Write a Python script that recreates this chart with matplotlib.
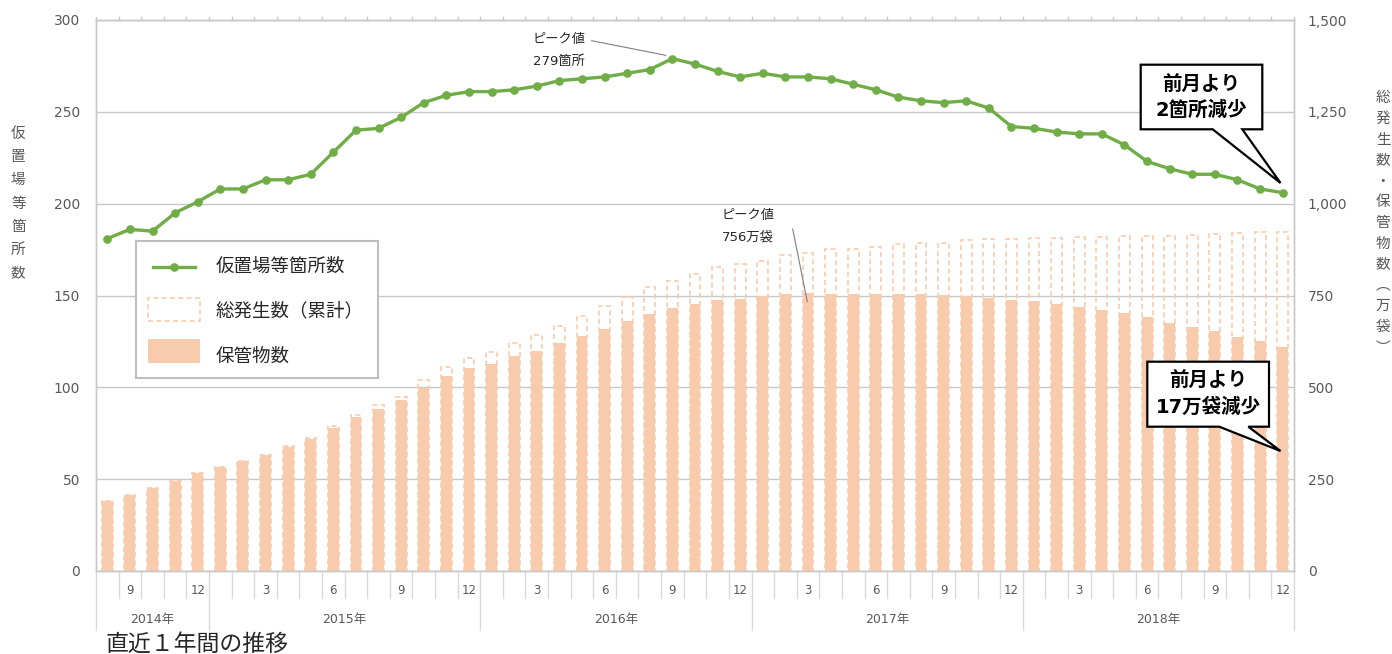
import matplotlib
matplotlib.use('Agg')
import matplotlib.pyplot as plt
from matplotlib.patches import Polygon, Rectangle
from matplotlib.lines import Line2D

plt.rcParams['font.family'] = ['DejaVu Sans', 'Noto Sans CJK JP']

# ---------------- data ----------------
years = [2014, 2014, 2014, 2014, 2014,
         2015, 2015, 2015, 2015, 2015, 2015, 2015, 2015, 2015, 2015, 2015, 2015,
         2016, 2016, 2016, 2016, 2016, 2016, 2016, 2016, 2016, 2016, 2016, 2016,
         2017, 2017, 2017, 2017, 2017, 2017, 2017, 2017, 2017, 2017, 2017, 2017,
         2018, 2018, 2018, 2018, 2018, 2018, 2018, 2018, 2018, 2018, 2018, 2018]
months = [8, 9, 10, 11, 12,
          1, 2, 3, 4, 5, 6, 7, 8, 9, 10, 11, 12,
          1, 2, 3, 4, 5, 6, 7, 8, 9, 10, 11, 12,
          1, 2, 3, 4, 5, 6, 7, 8, 9, 10, 11, 12,
          1, 2, 3, 4, 5, 6, 7, 8, 9, 10, 11, 12]

# 仮置場等箇所数 (left axis)
sites = [181, 186, 185, 195, 201,
         208, 208, 213, 213, 216, 228, 240, 241, 247, 255, 259, 261,
         261, 262, 264, 267, 268, 269, 271, 273, 279, 276, 272, 269,
         271, 269, 269, 268, 265, 262, 258, 256, 255, 256, 252, 242,
         241, 239, 238, 238, 232, 223, 219, 216, 216, 213, 208, 206]

# 総発生数（累計） 万袋 (right axis)
total = [191, 207, 226, 245, 267,
         284, 300, 317, 339, 362, 395, 426, 451, 475, 519, 555, 579,
         596, 620, 643, 668, 693, 721, 747, 773, 790, 809, 827, 835,
         845, 859, 867, 876, 876, 883, 889, 892, 894, 901, 903, 903,
         907, 907, 909, 909, 912, 912, 912, 915, 917, 919, 924, 924]

# 保管物数 万袋 (right axis)
storage = [191, 207, 226, 245, 267,
           284, 300, 317, 338, 360, 390, 418, 442, 465, 497, 531, 552,
           563, 584, 600, 620, 639, 659, 681, 700, 716, 727, 738, 741,
           749, 753, 756, 755, 755, 753, 753, 753, 751, 748, 743, 738,
           735, 727, 720, 711, 702, 692, 674, 664, 652, 636, 627, 610]

series_names = ['仮置場等箇所数', '総発生数（累計）', '保管物数']
left_ticks = [0, 50, 100, 150, 200, 250, 300]
left_tick_labels = ['0', '50', '100', '150', '200', '250', '300']
right_ticks = [0, 250, 500, 750, 1000, 1250, 1500]
right_tick_labels = ['0', '250', '500', '750', '1,000', '1,250', '1,500']
month_label_set = [3, 6, 9, 12]
left_label = '仮置場等箇所数'
right_label = '総発生数・保管物数（万袋）'
callout_sites = ['前月より', '2箇所減少']
callout_bags = ['前月より', '17万袋減少']
footer = '直近１年間の推移'

# ---------------- style ----------------
GREEN = '#70AD47'
ORANGE = '#F8CBAD'
GRID = '#C8C8C8'
SEP = '#D9D9D9'
TXT = '#595959'

W, H = 1392, 654
fig = plt.figure(figsize=(W / 100, H / 100), dpi=100)


def fx(x):
    return x / W


def fy(y):
    return 1 - y / H


AX_L, AX_R, AX_T, AX_B = 96, 1294, 20, 571
ax = fig.add_axes([fx(AX_L), fy(AX_B), fx(AX_R) - fx(AX_L), fy(AX_T) - fy(AX_B)])
ax2 = ax.twinx()
ax.set_zorder(ax2.get_zorder() + 1)
ax.patch.set_visible(False)

xs = list(range(len(months)))
ax2.bar(xs, total, width=0.48, fill=False, edgecolor=ORANGE,
        linestyle=(0, (3, 2)), linewidth=1.2, zorder=2)
ax2.bar(xs, storage, width=0.48, color=ORANGE, zorder=3, linewidth=0)
ax.plot(xs, sites, color=GREEN, lw=2.4, marker='o', ms=5.2, zorder=5)

ax.set_xlim(-0.5, len(months) - 0.5)
ax.set_ylim(0, 300)
ax2.set_ylim(0, 1500)
ax.set_xticks([])
ax.set_yticks(left_ticks)
ax.set_yticklabels(left_tick_labels)
ax2.set_yticks(right_ticks)
ax2.set_yticklabels(right_tick_labels)
ax.tick_params(axis='y', length=0, pad=11.5, labelsize=10, labelcolor=TXT)
ax2.tick_params(axis='y', length=0, pad=10, labelsize=10, labelcolor=TXT)
ax2.grid(axis='y', color=GRID, lw=1)
ax2.set_axisbelow(True)
for a in (ax, ax2):
    for s in a.spines.values():
        s.set_color(GRID)
        s.set_linewidth(1)

# separators & category labels
axh = AX_B - AX_T
xt = ax.get_xaxis_transform()
n = len(months)
for i in range(n + 1):
    b = i - 0.5
    ax.plot([b, b], [1, 1 + 3 / axh], transform=xt, clip_on=False, color=GRID, lw=1)
    long_sep = (i == 0 or i == n or years[i] != years[i - 1])
    ax.plot([b, b], [0, -(59 if long_sep else 27) / axh], transform=xt,
            clip_on=False, color=SEP, lw=1)
for i, m in enumerate(months):
    if m in month_label_set:
        ax.text(i, -19 / axh, str(m), transform=xt, ha='center', va='center',
                fontsize=8.5, color=TXT)
for yv in sorted(set(years)):
    idx = [i for i, v in enumerate(years) if v == yv]
    c = (idx[0] + idx[-1]) / 2
    ax.text(c, -49 / axh, f'{yv}年', transform=xt, ha='center', va='center',
            fontsize=9, color=TXT)

# axis titles (vertical, one char per line)
for k, ch in enumerate(left_label):
    fig.text(fx(18.3), fy(133.3 + 23.3 * k), ch, ha='center', va='center',
             fontsize=10.5, color=TXT)
vert = {'（': '︵', '）': '︶'}
for k, ch in enumerate(right_label):
    fig.text(fx(1383), fy(98.3 + 20.8 * k), vert.get(ch, ch), ha='center', va='center',
             fontsize=10.5, color=TXT, family=['Noto Sans CJK JP', 'DejaVu Sans'])

# peak annotations
peak_i = sites.index(max(sites))
fig.text(fx(532.7), fy(40), 'ピーク値', ha='left', va='center', fontsize=9.5, color='#262626')
fig.text(fx(532.7), fy(62), f'{max(sites)}箇所', ha='left', va='center', fontsize=9.5, color='#262626')
fig.add_artist(Line2D([fx(591.7), fx(665.7)], [fy(40.7), fy(55.3)], color='#7F7F7F', lw=0.8))
fig.text(fx(721.7), fy(216), 'ピーク値', ha='left', va='center', fontsize=9.5, color='#262626')
fig.text(fx(721.7), fy(237), f'{max(storage)}万袋', ha='left', va='center', fontsize=9.5, color='#262626')
fig.add_artist(Line2D([fx(792.7), fx(807.3)], [fy(229), fy(301.7)], color='#7F7F7F', lw=0.8))


def callout(x0, x1, y0, y1, b0, b1, tip, lines, ly):
    pts = [(x0, y0), (x1, y0), (x1, y1), (b1, y1), tip, (b0, y1), (x0, y1)]
    fig.add_artist(Polygon([(fx(a), fy(b)) for a, b in pts], closed=True,
                           facecolor='white', edgecolor='black', lw=1.6,
                           transform=fig.transFigure, zorder=10))
    cx = (x0 + x1) / 2
    for t, yy in zip(lines, ly):
        fig.text(fx(cx), fy(yy), t, ha='center', va='center', fontsize=14,
                 fontweight='bold', color='black', zorder=11)


callout(1140.7, 1262.3, 64.7, 129.3, 1212.7, 1242.3, (1280.5, 183), callout_sites, [85, 110])
callout(1147.3, 1269, 361.7, 426.7, 1219.3, 1248.3, (1280.5, 451), callout_bags, [381.7, 407.3])

# legend (manual)
fig.add_artist(Rectangle((fx(136), fy(377.7)), fx(378.3) - fx(136), (377.7 - 241) / H,
                         transform=fig.transFigure, facecolor='white', edgecolor='#BFBFBF',
                         lw=1.5, zorder=8))
fig.add_artist(Line2D([fx(153.3), fx(174.2), fx(195)], [fy(266.7)] * 3, color=GREEN, lw=2.4,
                      marker='o', ms=5.2, markevery=[1], zorder=9))
fig.add_artist(Rectangle((fx(148.3), fy(321)), fx(200) - fx(148.3), (321 - 298.3) / H,
                         transform=fig.transFigure, fill=False, edgecolor=ORANGE,
                         linestyle=(0, (3, 2)), lw=1.2, zorder=9))
fig.add_artist(Rectangle((fx(148.3), fy(363.3)), fx(200) - fx(148.3), (363.3 - 339) / H,
                         transform=fig.transFigure, facecolor=ORANGE, lw=0, zorder=9))
for name, yy in zip(series_names, [266.7, 311.3, 356.7]):
    fig.text(fx(216), fy(yy), name, ha='left', va='center', fontsize=13.3,
             color='#262626', zorder=10)

fig.text(fx(106), fy(644), footer, ha='left', va='center', fontsize=16.5, color='#262626')

fig.savefig('out.png', dpi=100)
